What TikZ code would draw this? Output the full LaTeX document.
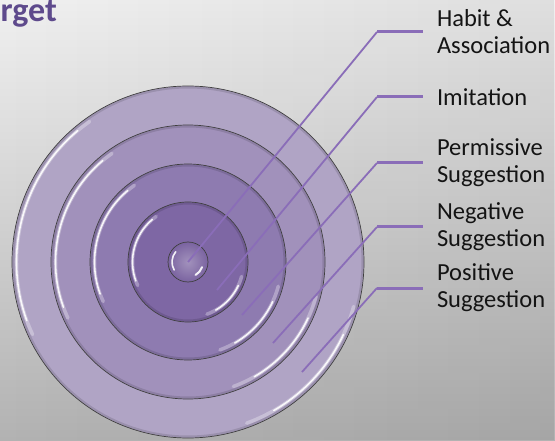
\documentclass[tikz,border=0pt]{standalone}
\usepackage{fontspec}
\setmainfont{Carlito}
\usetikzlibrary{fadings}
\definecolor{bgtop}{HTML}{F0F0F0}
\definecolor{bgbot}{HTML}{B2B2B2}
\definecolor{ringA}{HTML}{B0A4C5}
\definecolor{ringB}{HTML}{A191BB}
\definecolor{ringC}{HTML}{8E7BB0}
\definecolor{ringD}{HTML}{7E67A4}
\definecolor{ringE}{HTML}{7A63A0}
\definecolor{leadc}{HTML}{8A6DB8}
\definecolor{titlec}{HTML}{5E4A8C}
\definecolor{txt}{HTML}{141414}
\tikzfading[name=fadeleft, left color=transparent!100, right color=transparent!0]
\begin{document}
\begin{tikzpicture}[x=1pt,y=1pt,
  ring/.style={draw=black!75, line width=0.7pt},
  hl/.style={draw=white, line width=1.6pt, line cap=round, opacity=0.9},
  hlsoft/.style={draw=white, line width=3.5pt, line cap=round, opacity=0.3},
  shadowarc/.style={draw=black, line width=2pt, opacity=0.12},
  diag/.style={draw=leadc, line width=1.8pt},
  horiz/.style={draw=leadc, line width=3pt},
  lbl/.style={anchor=west, inner sep=0pt, outer sep=0pt, align=left, text=txt,
    font=\fontsize{24.5}{27}\selectfont}
]
\useasboundingbox (0,0) rectangle (555,440);
\fill[top color=bgtop, bottom color=bgbot] (0,0) rectangle (555,440);
\fill[black, path fading=fadeleft, opacity=0.07] (0,0) rectangle (555,440);

\node[anchor=base west, inner sep=0pt, text=titlec,
  font=\fontsize{34}{40}\selectfont\bfseries] (title) at (0.5,418) {rget};

\coordinate (C) at (188,178);
% rings
\filldraw[ring, fill=ringA] (C) circle[radius=176];
\draw[shadowarc] (C) circle[radius=174.5];
\filldraw[ring, fill=ringB] (C) circle[radius=137];
\draw[shadowarc] (C) circle[radius=135.5];
\filldraw[ring, fill=ringC] (C) circle[radius=98];
\draw[shadowarc] (C) circle[radius=96.5];
\filldraw[ring, fill=ringD] (C) circle[radius=60];
\draw[shadowarc] (C) circle[radius=58.5];
\shade[inner color=ringE!70!white, outer color=ringE] (C) circle[radius=20];
\draw[ring] (C) circle[radius=20];

% highlights
\foreach \r in {176,137,98,60} {
  \draw[hlsoft] (C) ++(125:\r-4.5) arc[start angle=125, end angle=205, radius=\r-4.5];
  \draw[hl] (C) ++(130:\r-4.5) arc[start angle=130, end angle=200, radius=\r-4.5];
  \draw[hlsoft] (C) ++(-15:\r-4.5) arc[start angle=-15, end angle=-70, radius=\r-4.5];
  \draw[hl] (C) ++(-25:\r-4.5) arc[start angle=-25, end angle=-60, radius=\r-4.5];
}
\draw[hl] (C) ++(140:16) arc[start angle=140, end angle=210, radius=16];
\draw[hl, line width=2pt] (C) ++(-20:15) arc[start angle=-20, end angle=-60, radius=15];

% labels
\node[lbl] (l1) at (437,408) {Habit \&\\Association};
\node[lbl] (l2) at (437,343) {Imitation};
\node[lbl] (l3) at (437,277) {Permissive\\Suggestion};
\node[lbl] (l4) at (437,213) {Negative\\Suggestion};
\node[lbl] (l5) at (437,152) {Positive\\Suggestion};

% leader lines
\coordinate (s1) at (188,178);
\coordinate (s2) at (217,150);
\coordinate (s3) at (242,125);
\coordinate (s4) at (273,97);
\coordinate (s5) at (302,68);
\foreach \i in {1,...,5} {
  \coordinate (k\i) at (377, 0 |- l\i.west);
  \coordinate (e\i) at ([xshift=-14pt]l\i.west);
  \draw[diag] (s\i) -- (k\i);
  \draw[horiz] (k\i) -- (e\i);
}
\end{tikzpicture}
\end{document}
